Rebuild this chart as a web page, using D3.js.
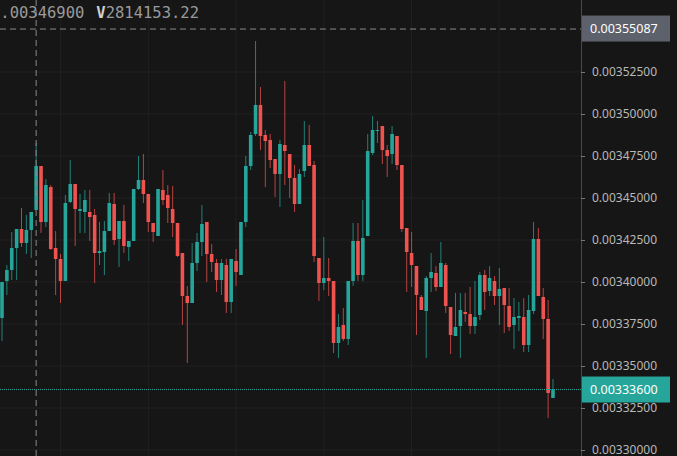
<!DOCTYPE html>
<html>
<head>
<meta charset="utf-8">
<style>
  html, body { margin: 0; padding: 0; background: #161616; overflow: hidden; }
  svg { display: block; }
</style>
</head>
<body>
<svg id="chart" width="677" height="456"></svg>
<script src="https://cdn.jsdelivr.net/npm/d3@7/dist/d3.min.js"></script>
<script>
// prices in units of 1e-8
var open = [337858,340060,340715,342024,343155,342322,343096,344286,346905,343572,345655,342024,341370,340060,344762,345834,344227,344167,344167,343989,
  341727,341786,343036,344643,342560,343631,342084,342441,345536,346072,345238,343512,342739,345476,345179,344346,343512,341727,339167,338750,
  341132,342381,343572,341667,341132,340120,341013,338810,341251,340417,343572,346905,348810,350536,348750,348452,347321,346429,348155,347619,
  346191,344643,346607,348155,346964,341429,339941,340239,340060,336370,337441,336608,340060,342441,340417,342739,347679,348990,349286,347857,
  347619,348691,346964,343215,341727,340953,339108,338274,340239,340536,339703,341013,338512,336786,337381,338215,338096,337381,338036,340417,
  339465,340060,339167,339643,338572,337441,337858,337917,336251,338274,342560,339108,337798,333096];
var high = [340000,341013,342977,343155,344405,343989,344167,348274,346905,346131,345774,343036,341667,345179,347262,345834,345238,345476,345476,344346,
  343572,343631,345298,345298,343631,344584,342441,345536,347500,347619,345238,343512,345536,346667,345774,345715,343512,341727,339763,342322,
  342917,344584,343572,342262,341370,341370,341370,341370,341965,343572,347500,348929,354346,351607,349048,348810,347321,348452,351965,347619,
  346964,346726,349583,349345,347203,341429,342679,341429,340060,338096,338453,340060,343512,343512,344881,348810,349881,349583,349286,348155,
  349286,348691,346964,343215,342977,340953,339227,340358,341727,340953,342381,341132,338512,339346,339346,339346,339703,340060,340596,340715,
  340953,340358,340834,339643,339643,339048,338810,339048,339227,343572,343215,339643,338929,334227];
var low = [336489,339227,340120,340120,342084,341667,341429,344286,342917,343274,341905,339227,338750,340060,344703,342143,342917,342917,342441,339941,
  341013,340417,343036,342203,340893,341727,341251,342441,345476,344703,342977,342381,342739,344584,343512,342679,341489,337441,335179,338750,
  340655,341548,340000,340596,339405,339227,338155,338155,339763,340417,343274,346667,348691,347857,345655,346786,345060,344465,345774,345000,
  344167,344643,346250,346905,341191,338870,339524,339167,335774,335477,336489,336251,339763,340060,340060,342739,347560,348274,347024,346250,
  347024,346667,342977,339405,339703,336846,338334,335477,339405,339465,339703,338155,335715,336786,335477,337620,336905,336905,337739,338334,
  339167,338631,337441,336965,337084,336013,337084,335834,335834,338096,339167,336608,331905,333096];
var close = [340000,340715,342024,343155,342322,343096,344167,346905,343572,345774,341965,341370,340060,344703,345834,344346,344346,344881,343869,341727,
  341846,343036,344703,342500,343631,342143,342441,345536,346072,345238,343572,342977,345536,344881,344405,343512,341548,339167,338750,341132,
  342381,343453,341667,341191,340120,341132,338810,341370,340596,343572,346905,348750,350536,348691,348393,347262,346429,348214,347798,346191,
  344643,346429,348155,346905,341548,339941,340239,340060,336370,337322,336608,340060,342441,340417,342620,347798,349048,349048,347857,347500,
  348810,346964,343155,341786,341013,339227,338334,340239,340596,339703,341132,338572,336846,337322,338334,338096,337381,337917,340417,339405,
  340239,339167,339584,338631,337322,337917,337977,336251,338334,342560,339167,337798,333393,333600];
var tickValues = [330000,332500,335000,337500,340000,342500,345000,347500,350000,352500];
var crossPrice = 355087;
var lastPrice = 333600;
var crossIndex = 7;
var legendClose = "0.00346900";
var legendVolume = "2814153.22";

var up = "#26a69a", down = "#ef5350";
var svg = d3.select("#chart");
var plotRight = 581;

var y = d3.scaleLinear().domain([330000, 352500]).range([450, 72]);
var x = d3.scaleLinear().domain([0, open.length - 1]).range([2, 553]);
var fmt = function (v) { return (v / 1e8).toFixed(8); };

// vertical grid
svg.append("g").selectAll("line")
  .data(d3.range(-27, plotRight, 87.7))
  .enter().append("line")
    .attr("x1", function (d) { return d; }).attr("x2", function (d) { return d; })
    .attr("y1", 0).attr("y2", 456)
    .attr("stroke", "#202020");

// horizontal grid
svg.append("g").selectAll("line")
  .data(tickValues)
  .enter().append("line")
    .attr("x1", 0).attr("x2", plotRight)
    .attr("y1", function (d) { return y(d); }).attr("y2", function (d) { return y(d); })
    .attr("stroke", "#202020");

// candles
var candles = svg.append("g").selectAll("g")
  .data(open.map(function (o, i) { return {o: o, h: high[i], l: low[i], c: close[i], i: i}; }))
  .enter().append("g");

candles.append("line")
  .attr("x1", function (d) { return x(d.i); }).attr("x2", function (d) { return x(d.i); })
  .attr("y1", function (d) { return y(d.h); }).attr("y2", function (d) { return y(d.l); })
  .attr("stroke", function (d) { return d.c >= d.o ? up : down; })
  .attr("stroke-opacity", 0.75)
  .attr("stroke-width", 1);

candles.append("rect")
  .attr("x", function (d) { return x(d.i) - 1.8; })
  .attr("width", 3.6)
  .attr("y", function (d) { return y(Math.max(d.o, d.c)); })
  .attr("height", function (d) { return Math.max(1, Math.abs(y(d.o) - y(d.c))); })
  .attr("fill", function (d) { return d.c >= d.o ? up : down; });

// last price line
svg.append("line")
  .attr("x1", 0).attr("x2", plotRight)
  .attr("y1", y(lastPrice)).attr("y2", y(lastPrice))
  .attr("stroke", up).attr("stroke-width", 1).attr("stroke-dasharray", "1,1");

// crosshair
svg.append("line")
  .attr("x1", 0).attr("x2", plotRight)
  .attr("y1", y(crossPrice) + 0.5).attr("y2", y(crossPrice) + 0.5)
  .attr("stroke", "#8a8a8a").attr("stroke-dasharray", "6,4");
svg.append("line")
  .attr("x1", x(crossIndex)).attr("x2", x(crossIndex))
  .attr("y1", 0).attr("y2", 456)
  .attr("stroke", "#8a8a8a").attr("stroke-dasharray", "6,4");

// right axis
svg.append("rect").attr("x", plotRight).attr("y", 0).attr("width", 96).attr("height", 456).attr("fill", "#161616");
var axis = d3.axisRight(y).tickValues(tickValues).tickSize(4).tickFormat(fmt);
var ag = svg.append("g").attr("transform", "translate(" + plotRight + ",0)").call(axis);
ag.select(".domain").attr("stroke", "#4a4a4a").attr("d", "M0.5,0V456");
ag.selectAll(".tick line").attr("stroke", "#777");
ag.selectAll(".tick text")
  .attr("x", 11)
  .attr("fill", "#b8b8b8")
  .style("font-family", "'Noto Sans', sans-serif")
  .style("font-size", "12px");

function priceLabel(v, bg) {
  var g = svg.append("g").attr("transform", "translate(" + (plotRight + 1) + "," + y(v) + ")");
  g.append("rect").attr("x", 0).attr("y", -13).attr("width", 88).attr("height", 26).attr("fill", bg);
  g.append("text").attr("x", 8).attr("y", 4.5).text(fmt(v))
    .attr("fill", "#ffffff")
    .style("font-family", "'Noto Sans', sans-serif").style("font-size", "12.5px");
}
priceLabel(crossPrice, "#5d616b");
priceLabel(lastPrice, up);

// legend
var leg = svg.append("text").attr("x", -9).attr("y", 18)
  .style("font-family", "'DejaVu Sans Mono', monospace").style("font-size", "15.5px");
leg.append("tspan").attr("fill", "#9a9a9a").text(legendClose);
leg.append("tspan").attr("dx", 12).attr("fill", "#d0d0d0").attr("font-weight", "bold").text("V");
leg.append("tspan").attr("fill", "#9a9a9a").text(legendVolume);
</script>
</body>
</html>
